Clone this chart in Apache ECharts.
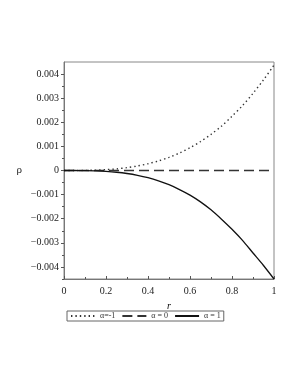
<!DOCTYPE html>
<html><head><meta charset="utf-8">
<script src="https://cdn.jsdelivr.net/npm/echarts@6/dist/echarts.min.js"></script>
<style>html,body{margin:0;padding:0;background:#fff}#c{width:298px;height:385px}</style>
</head><body><div id="c"></div>
<script>
const rValues = [0,0.05,0.1,0.15,0.2,0.25,0.3,0.35,0.4,0.45,0.5,0.55,0.6,0.65,0.7,0.75,0.8,0.85,0.9,0.95,1];
const rhoAlphaMinus1 = [0,0.0000005,0.0000044,0.0000147,0.000035,0.000068,0.000118,0.000187,0.00028,0.000398,0.000546,0.000727,0.000944,0.0012,0.0015,0.00184,0.00225,0.00269,0.0032,0.00376,0.00437];
const rhoAlpha0 = [0,0,0,0,0,0,0,0,0,0,0,0,0,0,0,0,0,0,0,0,0];
const rhoAlpha1 = [0,-0.0000006,-0.0000045,-0.000015,-0.000037,-0.000072,-0.000125,-0.0002,-0.0003,-0.00043,-0.00059,-0.00079,-0.00102,-0.0013,-0.00163,-0.00202,-0.00244,-0.0029,-0.00342,-0.00394,-0.0045];
const yTickLabels = [-0.004,-0.003,-0.002,-0.001,0,0.001,0.002,0.003,0.004];
const yMinorTicks = [-0.0045,-0.0035,-0.0025,-0.0015,-0.0005,0.0005,0.0015,0.0025,0.0035];
const xTicks = [0,0.2,0.4,0.6,0.8,1];
const seriesNames = ['\u03b1=-1','\u03b1 = 0','\u03b1 = 1'];

const font = 'Liberation Serif';
const chart = echarts.init(document.getElementById('c'));
const pair = (ys) => rValues.map((r,i)=>[r, ys[i]]);
function fmt(v){ if (v===0) return '0'; const s = Math.abs(v).toFixed(3); return (v<0?'\u2212':'') + s; }
const yBase = {type:'value', min:-0.0045, max:0.0045, position:'left'};
chart.setOption({
  animation:false,
  grid:{left:64, right:24, top:62, bottom:106},
  xAxis:{type:'value', min:0, max:1, interval:0.2,
    name:'r', nameLocation:'middle', nameGap:18,
    nameTextStyle:{fontFamily:font, fontStyle:'italic', fontSize:10, color:'#000'},
    axisLine:{show:true, onZero:false, lineStyle:{color:'#777', width:1}},
    axisTick:{show:true, inside:true, length:3, lineStyle:{color:'#555'}},
    minorTick:{show:true, splitNumber:2, length:2, lineStyle:{color:'#555'}},
    splitLine:{show:false},
    axisLabel:{fontFamily:font, fontSize:10, color:'#222', margin:7, formatter:v=>String(+v.toFixed(1))}
  },
  yAxis:[
    Object.assign({}, yBase, {
      name:'\u03c1', nameLocation:'middle', nameGap:42, nameRotate:0,
      nameTextStyle:{fontFamily:font, fontSize:11, color:'#222'},
      axisLine:{show:true, onZero:false, lineStyle:{color:'#777', width:1}},
      axisTick:{show:true, length:3, customValues:yTickLabels, lineStyle:{color:'#555'}},
      axisLabel:{fontFamily:font, fontSize:10, color:'#222', margin:5, customValues:yTickLabels, formatter:fmt},
      splitLine:{show:false}
    }),
    Object.assign({}, yBase, {
      axisLine:{show:false},
      axisTick:{show:true, length:2, customValues:yMinorTicks, lineStyle:{color:'#555'}},
      axisLabel:{show:false},
      splitLine:{show:false}
    })
  ],
  legend:{left:67, top:311, itemWidth:24, itemHeight:8, itemGap:6,
    itemStyle:{opacity:0},
    borderColor:'#666', borderWidth:1, padding:[1,3,1,3],
    textStyle:{fontFamily:font, fontSize:8, color:'#333'},
    data:seriesNames},
  series:[
    {name:seriesNames[0], type:'line', data:pair(rhoAlphaMinus1), smooth:0.3, symbol:'none',
      lineStyle:{color:'#333', width:1.4, type:[1.4,3]}, itemStyle:{color:'#333'}},
    {name:seriesNames[1], type:'line', data:pair(rhoAlpha0), symbol:'none',
      lineStyle:{color:'#333', width:1.4, type:[10,5]}, itemStyle:{color:'#333'}},
    {name:seriesNames[2], type:'line', data:pair(rhoAlpha1), smooth:0.3, symbol:'none',
      lineStyle:{color:'#111', width:1.3}, itemStyle:{color:'#111'}}
  ],
  graphic:[{type:'rect', shape:{x:64, y:62, width:210, height:217}, style:{fill:'none', stroke:'#888', lineWidth:1}, silent:true}]
});
</script></body></html>
